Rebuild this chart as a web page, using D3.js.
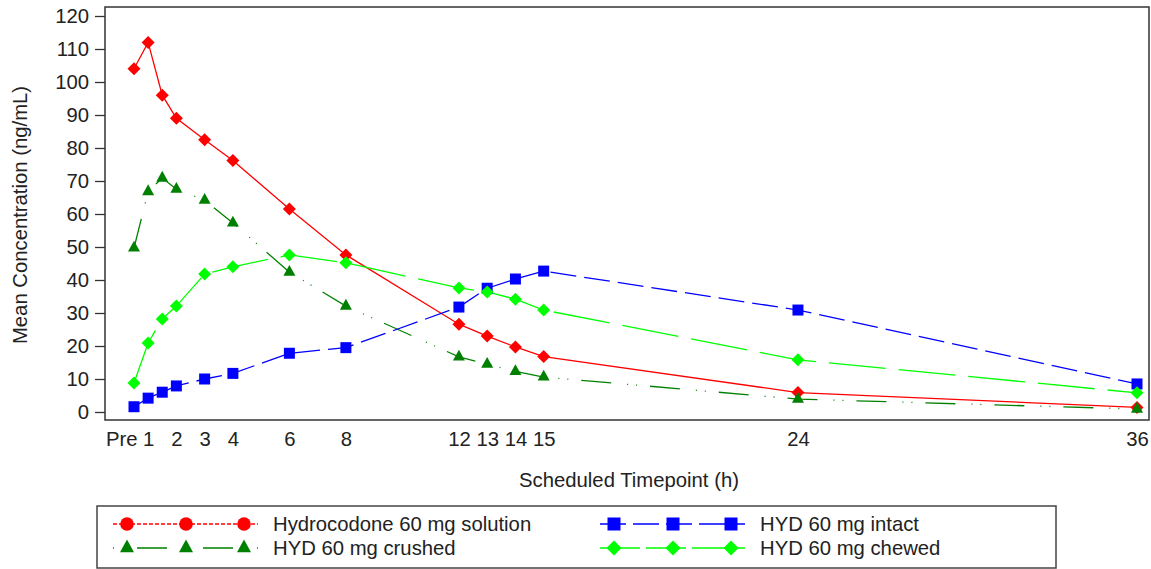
<!doctype html>
<html>
<head>
<meta charset="UTF-8">
<script src="https://d3js.org/d3.v7.min.js"></script>
<style>
  body { margin: 0; background: #fff; }
  text { font-family: Arial, "Liberation Sans", sans-serif; fill: #222; }
</style>
</head>
<body>
<script>
// timepoints (h); "Pre" is drawn half an hour before the 1 h sample
var hours = [0.5, 1, 1.5, 2, 3, 4, 6, 8, 12, 13, 14, 15, 24, 36]
var tickHours = [0.5, 1, 2, 3, 4, 6, 8, 12, 13, 14, 15, 24, 36]
var tickLabels = ["Pre", "1", "2", "3", "4", "6", "8", "12", "13", "14", "15", "24", "36"]
var yTicks = [0, 10, 20, 30, 40, 50, 60, 70, 80, 90, 100, 110, 120]

var solution = [104, 112, 96, 89, 82.5, 76.2, 61.5, 47.6, 26.6, 23.0, 19.7, 16.8, 5.9, 1.4]
var intact   = [1.6, 4.2, 6.0, 7.9, 10.0, 11.7, 17.8, 19.5, 31.8, 37.5, 40.3, 42.7, 30.9, 8.5]
var crushed  = [49.7, 66.8, 70.9, 67.5, 64.2, 57.3, 42.4, 32.1, 16.7, 14.5, 12.3, 10.6, 3.9, 0.9]
var chewed   = [8.8, 20.9, 28.2, 32.1, 41.8, 44.0, 47.6, 45.2, 37.6, 36.4, 34.2, 30.9, 15.8, 5.8]

var seriesNames = ["Hydrocodone 60 mg solution", "HYD 60 mg crushed", "HYD 60 mg intact", "HYD 60 mg chewed"]

var width = 1151, height = 569
var pLeft = 105, pRight = 1149, pTop = 7, pBottom = 420
var fontSize = '20.3px'

var svg = d3.select('body').append('svg')
  .attr('width', width)
  .attr('height', height)

var x = d3.scaleLinear().domain([0.5, 36]).range([134, 1137])
var y = d3.scaleLinear().domain([0, 120]).range([412, 16])

// marker shapes
var diamond = function(r){ return 'M0,' + (-r) + 'L' + r + ',0L0,' + r + 'L' + (-r) + ',0Z' }
var square = function(s){ return 'M' + (-s/2) + ',' + (-s/2) + 'h' + s + 'v' + s + 'h' + (-s) + 'Z' }
var triangle = function(w){ var h = w * 0.9; return 'M0,' + (-h*2/3) + 'L' + (w/2) + ',' + (h/3) + 'L' + (-w/2) + ',' + (h/3) + 'Z' }

var series = [
  { name: seriesNames[0], values: solution, color: '#ff0000', dash: null, marker: diamond(6.5), legMarker: 'circle', legDash: '4,2' },
  { name: seriesNames[1], values: crushed, color: '#008000', dash: '30,16,1,8,1,13', marker: triangle(12), legMarker: triangle(14), legDash: '1,23,30,36,30,24,1' },
  { name: seriesNames[2], values: intact, color: '#0000ff', dash: '26,8', marker: square(11), legMarker: square(13), legDash: '26,7' },
  { name: seriesNames[3], values: chewed, color: '#00ff00', dash: '57,13', marker: diamond(6.5), legMarker: diamond(7.5), legDash: '40,6' }
]

// axes
var yAxis = svg.append('g')
  .attr('transform', 'translate(' + pLeft + ',0)')
  .call(d3.axisLeft(y).tickValues(yTicks).tickSize(10).tickPadding(6))
yAxis.select('.domain').remove()
yAxis.selectAll('line').attr('stroke', '#333').attr('stroke-width', 1.3)
yAxis.selectAll('text').style('font-size', fontSize).attr('fill', '#222')

var xAxis = svg.append('g')
  .attr('transform', 'translate(0,' + pBottom + ')')
  .call(d3.axisBottom(x).tickValues(tickHours).tickFormat(function(d, i){ return tickLabels[i] }).tickSize(0).tickPadding(12))
xAxis.select('.domain').remove()
xAxis.selectAll('text').style('font-size', fontSize).attr('fill', '#222')
// "Pre" sits just left of its point, as in the original
xAxis.selectAll('text').filter(function(d){ return d == 0.5 }).attr('text-anchor', 'end').attr('x', 3)

// frame
svg.append('rect')
  .attr('x', pLeft).attr('y', pTop)
  .attr('width', pRight - pLeft).attr('height', pBottom - pTop)
  .attr('fill', 'none').attr('stroke', '#333').attr('stroke-width', 1.5)

svg.append('text')
  .text('Mean Concentration (ng/mL)')
  .style('font-size', fontSize)
  .attr('text-anchor', 'middle')
  .attr('transform', 'translate(27,215)rotate(-90)')

svg.append('text')
  .text('Scheduled Timepoint (h)')
  .style('font-size', fontSize)
  .attr('text-anchor', 'middle')
  .attr('x', 629).attr('y', 487)

// lines and markers
var line = d3.line()
  .x(function(d, i){ return x(hours[i]) })
  .y(function(d){ return y(d) })

series.forEach(function(s){
  svg.append('path')
    .attr('d', line(s.values))
    .attr('fill', 'none')
    .attr('stroke', s.color)
    .attr('stroke-width', 1.3)
    .attr('stroke-dasharray', s.dash)
})
series.forEach(function(s){
  svg.append('g').selectAll('path')
    .data(s.values)
    .enter()
    .append('path')
    .attr('d', s.marker)
    .attr('fill', s.color)
    .attr('transform', function(d, i){ return 'translate(' + x(hours[i]) + ',' + y(d) + ')' })
})

// legend
svg.append('rect')
  .attr('x', 97).attr('y', 506)
  .attr('width', 959).attr('height', 62)
  .attr('fill', 'none').attr('stroke', '#444').attr('stroke-width', 1.5)

var legPos = [[113, 524], [113, 548], [600, 524], [600, 548]]
series.forEach(function(s, k){
  var lx = legPos[k][0], ly = legPos[k][1]
  var g = svg.append('g').attr('transform', 'translate(' + lx + ',' + ly + ')')
  g.append('line')
    .attr('x1', 0).attr('x2', 145).attr('y1', 0).attr('y2', 0)
    .attr('stroke', s.color).attr('stroke-width', 1.3)
    .attr('stroke-dasharray', s.legDash)
  ;[14, 73, 131].forEach(function(mx){
    if (s.legMarker == 'circle') {
      g.append('circle').attr('cx', mx).attr('cy', 0).attr('r', 6.8).attr('fill', s.color)
    } else {
      g.append('path').attr('d', s.legMarker).attr('fill', s.color)
        .attr('transform', 'translate(' + mx + ',0)')
    }
  })
  g.append('text')
    .text(s.name)
    .style('font-size', fontSize)
    .attr('x', 160)
    .attr('dy', '0.35em')
})
</script>
</body>
</html>
